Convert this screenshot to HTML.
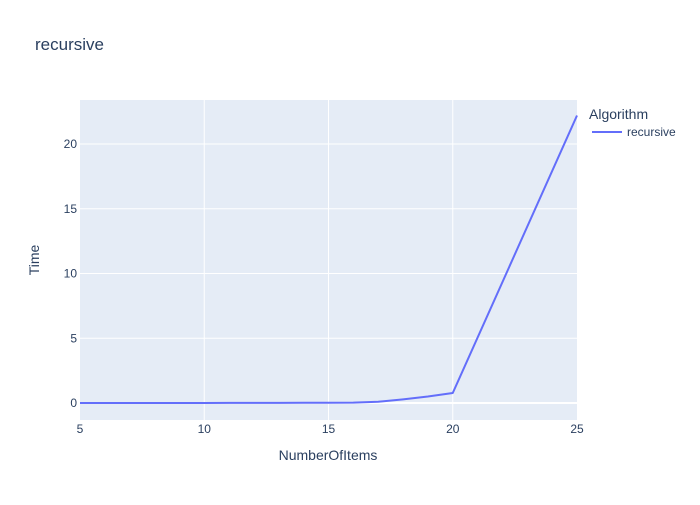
<!DOCTYPE html>
<html><head><meta charset="utf-8"><style>
body{margin:0;background:#fff;font-family:"Liberation Sans",sans-serif;}
</style></head><body>
<svg id="c" width="700" height="500" xmlns="http://www.w3.org/2000/svg">
<rect x="0" y="0" width="700" height="500" fill="#fff"/>
<rect x="80" y="100" width="497" height="320" fill="#e5ecf6"/>
<g id="grid"></g><g id="ticks"></g><g id="series"></g>
<text x="35" y="50" font-size="17" fill="#2a3f5f">recursive</text>
<text x="328" y="460" font-size="14" fill="#2a3f5f" text-anchor="middle">NumberOfItems</text>
<text x="39" y="260" font-size="14" fill="#2a3f5f" text-anchor="middle" transform="rotate(-90 39 260)">Time</text>
<text x="589" y="119" font-size="14" fill="#2a3f5f">Algorithm</text>
<g>
<line x1="592" y1="132" x2="622" y2="132" stroke="#636efa" stroke-width="2"/>
<text x="627" y="136" font-size="12" fill="#2a3f5f">recursive</text>
</g>
</svg>
<script>
const xVals=[5,6,7,8,9,10,11,12,13,14,15,16,17,18,19,20,25];
const yVals=[0,0,0,0,0,0,0.01,0.01,0.01,0.02,0.02,0.03,0.1,0.28,0.5,0.77,22.2];
const xTicks=[5,10,15,20,25];
const yTicks=[0,5,10,15,20];
const NS="http://www.w3.org/2000/svg";
const xs=v=>80+(v-5)/20*497;
const ys=v=>403-v*12.95;
const grid=document.getElementById('grid'),ticks=document.getElementById('ticks'),ser=document.getElementById('series');
function mk(t,a,p){const e=document.createElementNS(NS,t);for(const k in a)e.setAttribute(k,a[k]);p.appendChild(e);return e;}
xTicks.forEach(t=>{
 if(t>5&&t<25){const l=mk('line',{x1:xs(t),x2:xs(t),y1:100,y2:420,stroke:'#fff','stroke-width':1},grid);
 
 }
 const tx=mk('text',{x:xs(t),y:433,'font-size':12,fill:'#2a3f5f','text-anchor':'middle'},ticks);tx.textContent=t;
 
 
});
yTicks.forEach(t=>{
 const l=mk('line',{x1:80,x2:577,y1:ys(t),y2:ys(t),stroke:'#fff','stroke-width':t===0?2:1},grid);
 
 
 const tx=mk('text',{x:77,y:ys(t)+4,'font-size':12,fill:'#2a3f5f','text-anchor':'end'},ticks);tx.textContent=t;
 
 
});
const p=mk('polyline',{points:xVals.map((x,i)=>xs(x)+','+ys(yVals[i])).join(' '),fill:'none',stroke:'#636efa','stroke-width':2,'stroke-linejoin':'round'},ser);


</script>
</body></html>
